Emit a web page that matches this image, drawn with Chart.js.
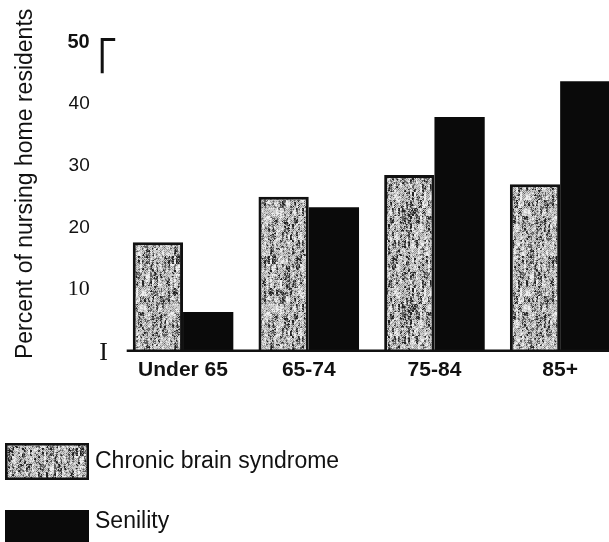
<!DOCTYPE html>
<html><head><meta charset="utf-8">
<script src="https://cdn.jsdelivr.net/npm/chart.js@4/dist/chart.umd.min.js"></script>
<style>html,body{margin:0;padding:0;background:#fff;overflow:hidden}#wrap{width:624px;height:542px}</style>
</head><body><div id="wrap"><canvas id="c" width="624" height="542"></canvas></div>
<script>
const categories = ['Under 65', '65-74', '75-84', '85+'];
const chronicBrainSyndrome = [17.6, 25.0, 28.5, 27.0];
const senility = [6.3, 23.3, 37.9, 43.7];
const yTickValues = [0, 10, 20, 30, 40, 50];
const seriesNames = ['Chronic brain syndrome', 'Senility'];
const yTitle = 'Percent of nursing home residents';

function hash(x, y) {
  let h = (Math.imul(x, 374761393) + Math.imul(y, 668265263)) | 0;
  h = Math.imul(h ^ (h >>> 13), 1274126177);
  return ((h ^ (h >>> 16)) >>> 0) / 4294967295;
}
function speckle() {
  const n = 96, c = document.createElement('canvas');
  c.width = c.height = n;
  const g = c.getContext('2d'), img = g.createImageData(n, n);
  for (let y = 0; y < n; y++) for (let x = 0; x < n; x++) {
    const coarse = hash((x >> 1) + 7, (y >> 3) + 31);
    const mid = hash((x >> 1) + 500, (y >> 1) + 900);
    const fine = hash(x + 101, y + 977);
    const d = 0.4 * coarse + 0.3 * mid + 0.3 * fine;
    let gray;
    if (d > 0.74) gray = 35;
    else if (d > 0.62) gray = 95;
    else if (d > 0.42 && ((x + y) & 1)) gray = 150;
    else if (d > 0.3) gray = 205;
    else gray = 238;
    const i = (y * n + x) * 4;
    img.data[i] = img.data[i + 1] = img.data[i + 2] = gray;
    img.data[i + 3] = 255;
  }
  g.putImageData(img, 0, 0);
  return g.createPattern(c, 'repeat');
}
const cbsFill = speckle();

const deco = {
  id: 'deco',
  afterDraw(chart) {
    const { ctx, chartArea: a, scales: { y } } = chart;
    ctx.save();
    // baseline (x axis line)
    const y0 = y.getPixelForValue(0);
    ctx.strokeStyle = '#111'; ctx.lineWidth = 2.5;
    ctx.beginPath(); ctx.moveTo(a.left + 6.5, y0); ctx.lineTo(a.right, y0); ctx.stroke();
    // top bracket mark
    ctx.lineWidth = 3; ctx.lineCap = 'butt';
    const x0 = a.left - 18, yt = y.getPixelForValue(50) - 3;
    ctx.beginPath();
    ctx.moveTo(x0, y.getPixelForValue(45));
    ctx.lineTo(x0, yt);
    ctx.lineTo(x0 + 13, yt);
    ctx.stroke();
    ctx.fillStyle = '#111';
    ctx.font = '26px "Liberation Serif"';
    ctx.textAlign = 'center'; ctx.textBaseline = 'middle';
    ctx.fillText('I', a.left - 16.5, y0 + 2);
    // legend
    const boxTops = [chart.height - 99, chart.height - 32];
    const textMids = [chart.height - 80, chart.height - 20];
    ctx.textAlign = 'left';
    ctx.font = '23px "Liberation Sans"';
    chart.data.datasets.forEach((ds, i) => {
      ctx.fillStyle = ds.backgroundColor;
      ctx.fillRect(5, boxTops[i], 84, 37);
      if (ds.borderWidth) {
        ctx.strokeStyle = ds.borderColor; ctx.lineWidth = 2.5;
        ctx.strokeRect(6.25, boxTops[i] + 1.25, 81.5, 34.5);
      }
      ctx.fillStyle = '#111';
      ctx.fillText(ds.label, 95, textMids[i]);
    });
    ctx.restore();
  }
};

new Chart(document.getElementById('c'), {
  type: 'bar',
  data: {
    labels: categories,
    datasets: [
      { label: seriesNames[0], data: chronicBrainSyndrome, backgroundColor: cbsFill,
        borderColor: '#111', borderWidth: 3, borderSkipped: 'bottom' },
      { label: seriesNames[1], data: senility, backgroundColor: '#0a0a0a', borderWidth: 0 }
    ]
  },
  options: {
    responsive: false,
    devicePixelRatio: 1,
    animation: false,
    layout: { padding: { top: 39.5, bottom: 152, right: 1, left: 0 } },
    plugins: { legend: { display: false }, tooltip: { enabled: false } },
    datasets: { bar: { categoryPercentage: 0.8, barPercentage: 1.0 } },
    scales: {
      x: {
        grid: { display: false, drawTicks: false },
        border: { display: false },
        ticks: { color: '#111', padding: 7, maxRotation: 0, autoSkip: false,
          font: { family: 'Liberation Sans', size: 21, weight: 'bold' } }
      },
      y: {
        min: 0, max: 50,
        afterFit(s) { s.width = 120.2; },
        afterBuildTicks(s) { s.ticks = yTickValues.map(v => ({ value: v })); },
        grid: { display: false, drawTicks: false },
        border: { display: false },
        ticks: {
          color: '#111', padding: 30.5,
          callback: v => (v === 0 ? '' : String(v)),
          font: ctx => {
            const v = ctx.tick ? ctx.tick.value : null;
            if (v === 50) return { family: 'Liberation Sans', size: 20, weight: 'bold' };
            if (v === 10) return { family: 'Liberation Serif', size: 22 };
            return { family: 'Liberation Sans', size: 19 };
          }
        },
        title: { display: true, text: '\u00a0\u00a0\u00a0\u00a0' + yTitle, color: '#111',
          padding: { top: 12, bottom: 0 },
          font: { family: 'Liberation Sans', size: 23 } }
      }
    }
  },
  plugins: [deco]
});
</script>
</body></html>
